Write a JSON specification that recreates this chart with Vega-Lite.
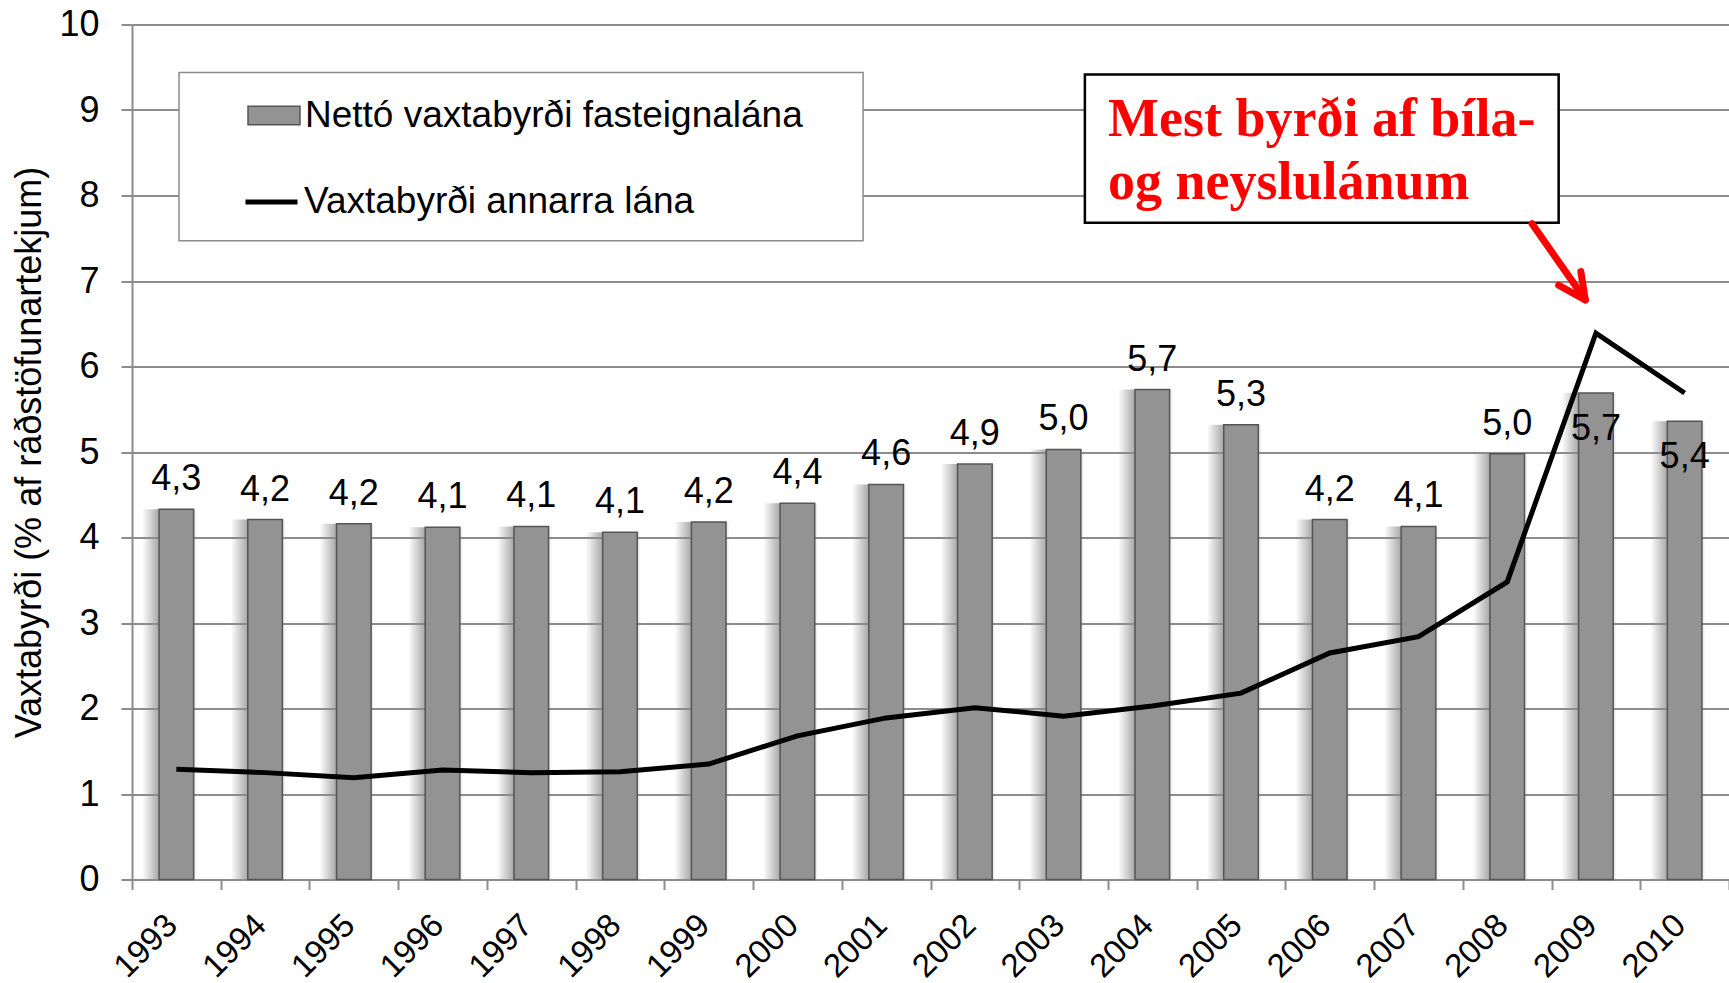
{
  "$schema": "https://vega.github.io/schema/vega-lite/v6.json",
  "width": 1597,
  "height": 855,
  "autosize": {"type": "none"},
  "padding": {"left": 132, "top": 24.5, "right": 0, "bottom": 103.5},
  "background": "white",
  "config": {
    "font": "Liberation Sans, Arial, sans-serif",
    "view": {"stroke": null},
    "locale": {"number": {"decimal": ",", "thousands": ".", "grouping": [3], "currency": ["", " kr."]}}
  },
  "data": {
    "values": [
      {"year": "1993", "bar": 4.33, "other": 1.29},
      {"year": "1994", "bar": 4.21, "other": 1.25},
      {"year": "1995", "bar": 4.16, "other": 1.19},
      {"year": "1996", "bar": 4.12, "other": 1.28},
      {"year": "1997", "bar": 4.13, "other": 1.25},
      {"year": "1998", "bar": 4.06, "other": 1.26},
      {"year": "1999", "bar": 4.18, "other": 1.35},
      {"year": "2000", "bar": 4.40, "other": 1.68},
      {"year": "2001", "bar": 4.62, "other": 1.89},
      {"year": "2002", "bar": 4.86, "other": 2.01},
      {"year": "2003", "bar": 5.03, "other": 1.91},
      {"year": "2004", "bar": 5.73, "other": 2.03},
      {"year": "2005", "bar": 5.32, "other": 2.18},
      {"year": "2006", "bar": 4.21, "other": 2.65},
      {"year": "2007", "bar": 4.13, "other": 2.84},
      {"year": "2008", "bar": 4.98, "other": 3.48},
      {"year": "2009", "bar": 5.69, "other": 6.39},
      {"year": "2010", "bar": 5.36, "other": 5.69}
    ]
  },
  "layer": [
    {
      "data": {"values": [{}]},
      "layer": [
        {
          "mark": {"type": "rect", "fill": "white", "stroke": "#8c8c8c", "strokeWidth": 1.5},
          "encoding": {
            "x": {"datum": 0.53, "type": "quantitative", "scale": {"domain": [0, 18], "nice": false, "zero": false}, "axis": null},
            "x2": {"datum": 8.24},
            "y": {"datum": 9.44, "type": "quantitative", "scale": {"domain": [0, 10], "nice": false}},
            "y2": {"datum": 7.47}
          }
        },
        {
          "mark": {"type": "rect", "fill": "white", "stroke": "black", "strokeWidth": 2.5},
          "encoding": {
            "x": {"datum": 10.74, "type": "quantitative"},
            "x2": {"datum": 16.08},
            "y": {"datum": 9.415, "type": "quantitative"},
            "y2": {"datum": 7.68}
          }
        },
        {
          "mark": {
            "type": "text", "text": ["Mest byrði af bíla-", "og neyslulánum"],
            "font": "Liberation Serif", "fontWeight": "bold", "fontSize": 54, "lineHeight": 63,
            "color": "#ff0000", "align": "left", "baseline": "alphabetic"
          },
          "encoding": {
            "x": {"datum": 11.0, "type": "quantitative"},
            "y": {"datum": 8.70, "type": "quantitative"}
          }
        },
        {
          "mark": {"type": "rule", "color": "#ff0000", "strokeWidth": 7, "strokeCap": "round"},
          "encoding": {
            "x": {"datum": 15.78, "type": "quantitative"},
            "x2": {"datum": 16.38},
            "y": {"datum": 7.67, "type": "quantitative"},
            "y2": {"datum": 6.78}
          }
        },
        {
          "mark": {"type": "rule", "color": "#ff0000", "strokeWidth": 7, "strokeCap": "round"},
          "encoding": {
            "x": {"datum": 16.08, "type": "quantitative"},
            "x2": {"datum": 16.38},
            "y": {"datum": 6.95, "type": "quantitative"},
            "y2": {"datum": 6.78}
          }
        },
        {
          "mark": {"type": "rule", "color": "#ff0000", "strokeWidth": 7, "strokeCap": "round"},
          "encoding": {
            "x": {"datum": 16.33, "type": "quantitative"},
            "x2": {"datum": 16.38},
            "y": {"datum": 7.11, "type": "quantitative"},
            "y2": {"datum": 6.78}
          }
        }
      ]
    },
    {
      "layer": [
        {
          "mark": {
            "type": "bar", "width": {"band": 0.75}, "xOffset": -1,
            "fill": {
              "x1": 0, "y1": 0, "x2": 1, "y2": 0, "gradient": "linear",
              "stops": [
                {"offset": 0, "color": "rgba(140,140,140,0)"},
                {"offset": 0.25, "color": "rgba(140,140,140,0.75)"},
                {"offset": 0.75, "color": "rgba(140,140,140,0.35)"},
                {"offset": 0.83, "color": "rgba(140,140,140,0)"},
                {"offset": 1, "color": "rgba(140,140,140,0)"}
              ]
            }
          },
          "encoding": {
            "x": {
              "field": "year", "type": "nominal", "sort": null,
              "scale": {"paddingInner": 0, "paddingOuter": 0},
              "axis": {
                "orient": "bottom",
                "title": null, "labelAngle": -45, "labelFontSize": 33, "labelColor": "black",
                "labelAlign": "right", "labelBaseline": "top", "labelOffset": -16,
                "tickBand": "extent", "tickSize": 10, "tickColor": "#8c8c8c", "tickWidth": 2,
                "domainColor": "#8c8c8c", "domainWidth": 2, "labelPadding": 19, "grid": false
              }
            },
            "y": {
              "field": "bar", "type": "quantitative",
              "scale": {"domain": [0, 10], "nice": false},
              "axis": {
                "values": [0, 1, 2, 3, 4, 5, 6, 7, 8, 9, 10], "format": "d",
                "title": "Vaxtabyrði (% af ráðstöfunartekjum)",
                "titleFontSize": 36, "titleFontWeight": "normal", "titleColor": "black", "titlePadding": 10,
                "labelFontSize": 36, "labelColor": "black", "labelPadding": 22,
                "grid": true, "gridColor": "#8c8c8c", "gridWidth": 2,
                "domainColor": "#8c8c8c", "domainWidth": 2,
                "tickColor": "#8c8c8c", "tickWidth": 2, "tickSize": 11
              }
            }
          }
        },
        {
          "mark": {"type": "bar", "width": {"band": 0.39}, "stroke": "#555555", "strokeWidth": 1.5},
          "encoding": {
            "x": {"field": "year", "type": "nominal", "sort": null},
            "y": {"field": "bar", "type": "quantitative"},
            "fill": {
              "datum": "Nettó vaxtabyrði fasteignalána", "type": "nominal",
              "scale": {"domain": ["Nettó vaxtabyrði fasteignalána"], "range": ["#939393"]},
              "legend": {
                "title": null, "orient": "none", "legendX": 115, "legendY": 64, "padding": 0,
                "symbolType": "M-1,-0.36H1V0.36H-1Z", "symbolSize": 2704,
                "symbolStrokeColor": "#555555", "symbolStrokeWidth": 1.5, "symbolOpacity": 1,
                "labelOffset": 4, "labelFontSize": 37, "labelColor": "black", "labelLimit": 0
              }
            }
          }
        },
        {
          "mark": {"type": "line", "strokeWidth": 5, "strokeJoin": "miter"},
          "encoding": {
            "x": {"field": "year", "type": "nominal", "sort": null},
            "y": {"field": "other", "type": "quantitative"},
            "stroke": {
              "datum": "Vaxtabyrði annarra lána", "type": "nominal",
              "scale": {"domain": ["Vaxtabyrði annarra lána"], "range": ["#000000"]},
              "legend": {
                "title": null, "orient": "none", "legendX": 111, "legendY": 149, "padding": 0,
                "symbolType": "stroke", "symbolSize": 2704, "symbolStrokeWidth": 5, "symbolOpacity": 1,
                "labelOffset": 4, "labelFontSize": 37, "labelColor": "black", "labelLimit": 0
              }
            }
          }
        },
        {
          "transform": [{"filter": "datum.year != '2009' && datum.year != '2010'"}],
          "mark": {"type": "text", "fontSize": 36, "color": "black", "baseline": "alphabetic", "dy": -19},
          "encoding": {
            "x": {"field": "year", "type": "nominal", "sort": null},
            "y": {"field": "bar", "type": "quantitative"},
            "text": {"field": "bar", "type": "quantitative", "format": ".1f"}
          }
        },
        {
          "transform": [{"filter": "datum.year == '2009' || datum.year == '2010'"}],
          "mark": {"type": "text", "fontSize": 36, "color": "black", "baseline": "alphabetic", "dy": 47},
          "encoding": {
            "x": {"field": "year", "type": "nominal", "sort": null},
            "y": {"field": "bar", "type": "quantitative"},
            "text": {"field": "bar", "type": "quantitative", "format": ".1f"}
          }
        }
      ]
    }
  ],
  "resolve": {"scale": {"x": "independent"}}
}
